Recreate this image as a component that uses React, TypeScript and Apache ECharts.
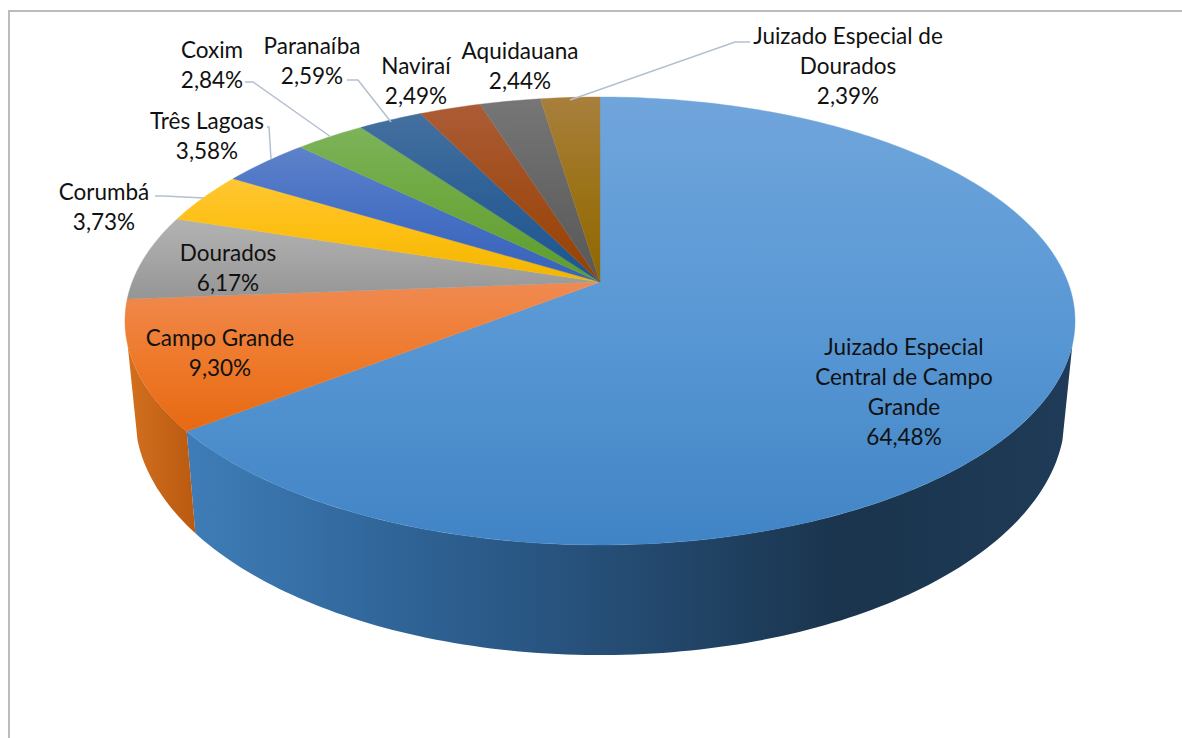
import React, { useEffect, useRef } from "react";
import * as echarts from "echarts";

const categories = [
  "Juizado Especial\nCentral de Campo\nGrande",
  "Campo Grande",
  "Dourados",
  "Corumbá",
  "Três Lagoas",
  "Coxim",
  "Paranaíba",
  "Naviraí",
  "Aquidauana",
  "Juizado Especial de\nDourados",
];
const values = [64.48, 9.3, 6.17, 3.73, 3.58, 2.84, 2.59, 2.49, 2.44, 2.39];

const topColors = [
  ["#70a5db", "#5998d5", "#4184c5"],
  ["#f08a52", "#ee7a2c", "#e76912"],
  ["#b2b2b2", "#a5a5a5", "#959595"],
  ["#ffc733", "#fdbf12", "#f2b600"],
  ["#5d82ca", "#4670c4", "#3862b8"],
  ["#7db35a", "#6ca83e", "#5e9c2e"],
  ["#44709f", "#2e6096", "#1c558f"],
  ["#ac5c36", "#a04d1a", "#964000"],
  ["#767676", "#666666", "#575757"],
  ["#a87f3c", "#9b7318", "#906600"],
];
const wallStops: [number, string][][] = [
  [[0, "#3f7db8"], [0.22, "#30669a"], [0.46, "#264f78"], [0.74, "#1a344d"], [1, "#1f3b57"]],
  [[0, "#d2701f"], [1, "#ba5a10"]],
];

// label anchor: centre x, first-line middle y
const labelPos = [
  [904, 346], [220, 337], [228, 252], [104, 191], [207, 120],
  [212, 49], [312, 45], [416, 65], [520, 50], [848, 35],
];
const LINE_H = 30;
const leaders: number[][][] = [
  [[155, 196], [164, 196], [204, 198]],
  [[267, 127], [269, 127], [271, 159]],
  [[245, 82], [253, 82], [331, 137]],
  [[347, 80], [358, 80], [391, 122]],
  [[750, 42], [735, 42], [570, 100]],
];

const K = -0.174;
const CX = 600;
const TOP = { cy: 282, rx: 467.8, ry: 217.2 };
const BOTTOM = { cy: 373, rx: 458, ry: 233 };
// the wall is only seen between these two angles, where it meets the silhouette
const WALL_START = (106 * Math.PI) / 180;
const WALL_END = (254 * Math.PI) / 180;
const total = values.reduce((a, b) => a + b, 0);

function project(theta: number, d: { cy: number; rx: number; ry: number }): number[] {
  const u = Math.sin(theta);
  const v = -Math.cos(theta);
  const w = 1 + K * v;
  return [CX + (d.rx * u) / w, d.cy + (d.ry * v) / w];
}

function arc(t0: number, t1: number, d: { cy: number; rx: number; ry: number }): number[][] {
  const n = Math.max(4, Math.ceil(((t1 - t0) / (2 * Math.PI)) * 360));
  const pts: number[][] = [];
  for (let i = 0; i <= n; i++) pts.push(project(t0 + ((t1 - t0) * i) / n, d));
  return pts;
}

function range(i: number): [number, number] {
  let s = 0;
  for (let j = 0; j < i; j++) s += values[j];
  return [(s / total) * 2 * Math.PI, ((s + values[i]) / total) * 2 * Math.PI];
}

const pct = (v: number) => v.toFixed(2).replace(".", ",") + "%";

export default function App() {
  const ref = useRef<HTMLDivElement>(null);
  useEffect(() => {
    if (!ref.current) return;
    const chart = echarts.init(ref.current, undefined, { renderer: "svg" });
    const data = values.map((v, i) => ({ value: v, name: categories[i] }));
    chart.setOption({
      animation: false,
      backgroundColor: "#ffffff",
      graphic: [
        {
          type: "polyline",
          silent: true,
          z: 0,
          shape: { points: [[9, 738], [9, 11], [1182, 11]] },
          style: { stroke: "#bcbcbc", lineWidth: 2, fill: "none" },
        },
        ...leaders.map((points) => ({
          type: "polyline",
          silent: true,
          z: 10,
          shape: { points },
          style: { stroke: "#b4c0cf", lineWidth: 1.5, fill: "none" },
        })),
      ],
      series: [
        {
          type: "custom",
          coordinateSystem: "none",
          silent: true,
          z: 1,
          data,
          renderItem: (params: any) => {
            const i = params.dataIndex;
            const [a, b] = range(i);
            const start = Math.max(a, WALL_START);
            const end = Math.min(b, WALL_END);
            if (i >= wallStops.length || end <= start) return { type: "group", children: [] };
            const pts = arc(start, end, TOP).concat(arc(start, end, BOTTOM).reverse());
            return {
              type: "polygon",
              shape: { points: pts },
              style: {
                fill: new echarts.graphic.LinearGradient(
                  0, 0, 1, 0,
                  wallStops[i].map(([offset, color]) => ({ offset, color }))
                ),
              },
            };
          },
        },
        {
          type: "custom",
          coordinateSystem: "none",
          silent: true,
          z: 2,
          data,
          renderItem: (params: any) => {
            const i = params.dataIndex;
            const [a, b] = range(i);
            const pts = [[CX, TOP.cy]].concat(arc(a, b, TOP));
            const c = topColors[i];
            const grad = new echarts.graphic.LinearGradient(0, 0, 0, 1, [
              { offset: 0, color: c[0] },
              { offset: 0.5, color: c[1] },
              { offset: 1, color: c[2] },
            ]);
            return {
              type: "polygon",
              shape: { points: pts },
              style: { fill: grad, stroke: grad, lineWidth: 0.4 },
            };
          },
        },
        {
          type: "custom",
          coordinateSystem: "none",
          silent: true,
          z: 3,
          data,
          renderItem: (params: any, api: any) => {
            const i = params.dataIndex;
            const [x, y] = labelPos[i];
            return {
              type: "text",
              style: {
                x,
                y: y - LINE_H / 2,
                text: categories[i] + "\n" + pct(api.value(0)),
                fill: "#111111",
                font: '22.5px Lato, "Noto Sans", sans-serif',
                align: "center",
                verticalAlign: "top",
                lineHeight: LINE_H,
              },
            };
          },
        },
      ],
    });
    return () => chart.dispose();
  }, []);
  return (
    <div
      ref={ref}
      style={{ position: "absolute", left: 0, top: 0, width: 1182, height: 738 }}
    />
  );
}
